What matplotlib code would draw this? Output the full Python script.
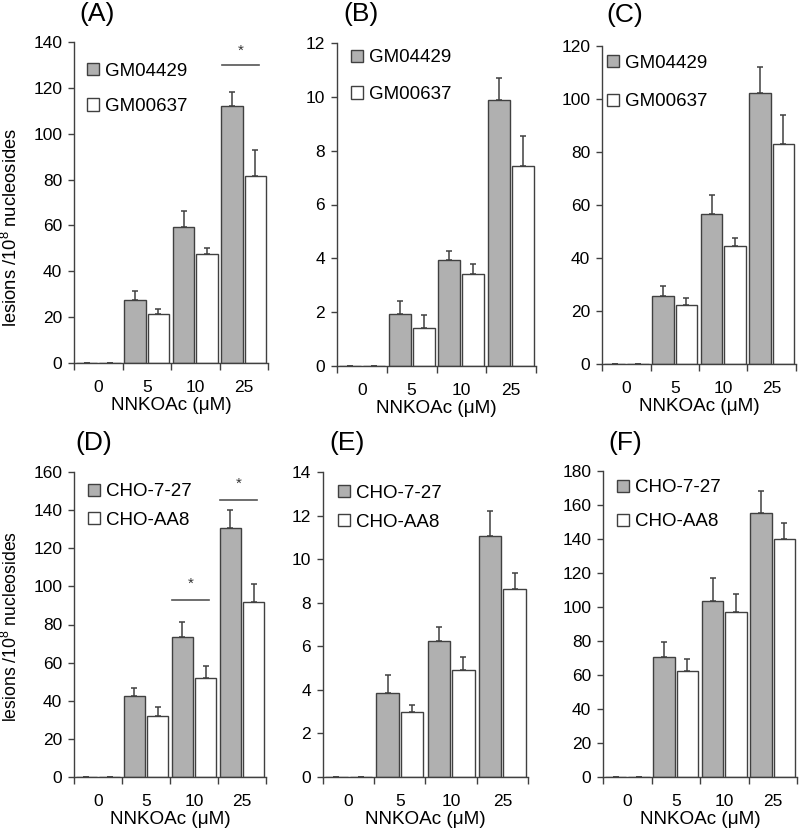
import matplotlib
matplotlib.use('Agg')
import matplotlib.pyplot as plt
import numpy as np
from matplotlib.patches import Patch

plt.rcParams['font.family'] = ['Liberation Sans', 'DejaVu Sans']
plt.rcParams['mathtext.fontset'] = 'custom'
plt.rcParams['mathtext.rm'] = 'Liberation Sans'
plt.rcParams['mathtext.it'] = 'Liberation Sans:italic'

# ---------------- data ----------------
doses = ['0', '5', '10', '25']
xlabel = 'NNKOAc (\u03bcM)'
ylabel = r'lesions /10$^{8}$ nucleosides'

human_lines = ['GM04429', 'GM00637']
cho_lines = ['CHO-7-27', 'CHO-AA8']

a_gray = [0, 27.3, 59.5, 111.9]
a_gray_err = [0, 4.2, 6.6, 6.4]
a_white = [0, 21.4, 47.4, 81.7]
a_white_err = [0, 2.2, 2.6, 11.0]

b_gray = [0, 1.92, 3.95, 9.87]
b_gray_err = [0, 0.50, 0.33, 0.82]
b_white = [0, 1.43, 3.42, 7.43]
b_white_err = [0, 0.48, 0.37, 1.10]

c_gray = [0, 25.8, 56.5, 102.2]
c_gray_err = [0, 3.6, 7.4, 9.7]
c_white = [0, 22.1, 44.6, 82.9]
c_white_err = [0, 2.9, 3.1, 11.1]

d_gray = [0, 42.7, 73.4, 130.8]
d_gray_err = [0, 4.0, 7.9, 9.1]
d_white = [0, 32.2, 51.8, 91.8]
d_white_err = [0, 4.5, 6.3, 9.3]

e_gray = [0, 3.86, 6.26, 11.04]
e_gray_err = [0, 0.84, 0.63, 1.17]
e_white = [0, 2.99, 4.92, 8.62]
e_white_err = [0, 0.31, 0.57, 0.75]

f_gray = [0, 70.7, 103.8, 155.1]
f_gray_err = [0, 8.6, 13.1, 13.1]
f_white = [0, 62.1, 97.3, 139.8]
f_white_err = [0, 7.6, 10.2, 9.4]

# significance: (dose index, line y, star y)
a_sig = [(3, 130, 136)]
d_sig = [(2, 92.8, 101.5), (3, 145.5, 154)]

a_yticks = [0, 20, 40, 60, 80, 100, 120, 140]
b_yticks = [0, 2, 4, 6, 8, 10, 12]
c_yticks = [0, 20, 40, 60, 80, 100, 120]
d_yticks = [0, 20, 40, 60, 80, 100, 120, 140, 160]
e_yticks = [0, 2, 4, 6, 8, 10, 12, 14]
f_yticks = [0, 20, 40, 60, 80, 100, 120, 140, 160, 180]

# ---------------- layout ----------------
W, H = 800, 835
fig = plt.figure(figsize=(W / 100, H / 100), dpi=100)

GRAY = '#b0b0b0'
EDGE = '#404040'

panels = [
    dict(tag='(A)', rect=(74, 42, 268, 363), g=a_gray, ge=a_gray_err, w=a_white, we=a_white_err,
         yt=a_yticks, names=human_lines, sig=a_sig, ylab=(13.2, 21.5, 227),
         leg=(87, 73, 1.0), tagpos=(97, 14)),
    dict(tag='(B)', rect=(337, 43, 536, 366), g=b_gray, ge=b_gray_err, w=b_white, we=b_white_err,
         yt=b_yticks, names=human_lines, sig=[], ylab=None,
         leg=(351, 60, 1.05), tagpos=(361, 14)),
    dict(tag='(C)', rect=(602, 46, 796, 364), g=c_gray, ge=c_gray_err, w=c_white, we=c_white_err,
         yt=c_yticks, names=human_lines, sig=[], ylab=None,
         leg=(607, 65, 1.17), tagpos=(625, 15)),
    dict(tag='(D)', rect=(74, 472, 266, 777), g=d_gray, ge=d_gray_err, w=d_white, we=d_white_err,
         yt=d_yticks, names=cho_lines, sig=d_sig, ylab=(12.7, 21, 626),
         leg=(88, 494, 0.6), tagpos=(94, 443)),
    dict(tag='(E)', rect=(323, 472, 528, 777), g=e_gray, ge=e_gray_err, w=e_white, we=e_white_err,
         yt=e_yticks, names=cho_lines, sig=[], ylab=None,
         leg=(338, 495, 0.65), tagpos=(347, 443)),
    dict(tag='(F)', rect=(603, 471, 797, 777), g=f_gray, ge=f_gray_err, w=f_white, we=f_white_err,
         yt=f_yticks, names=cho_lines, sig=[], ylab=None,
         leg=(617, 490, 0.9), tagpos=(625, 443)),
]

TICK_FS = 12.5
LEG_FS = 13.5
XL_FS = 13.6
bw = 0.44
off = 0.24

for p in panels:
    l, t, r, b = p['rect']
    ax = fig.add_axes([l / W, 1 - b / H, (r - l) / W, (b - t) / H])
    x = np.arange(len(doses))
    g = np.array(p['g'], float)
    wv = np.array(p['w'], float)
    ax.bar(x - off, g, bw, color=GRAY, edgecolor=EDGE, linewidth=1.0, zorder=2)
    ax.bar(x + off, wv, bw, color='white', edgecolor=EDGE, linewidth=1.0, zorder=2)
    ax.errorbar(x - off, g, yerr=[np.zeros_like(g), p['ge']], fmt='none',
                ecolor=EDGE, elinewidth=1.1, capsize=2, capthick=1.1, zorder=1)
    ax.errorbar(x + off, wv, yerr=[np.zeros_like(wv), p['we']], fmt='none',
                ecolor=EDGE, elinewidth=1.1, capsize=2, capthick=1.1, zorder=1)

    for (i, ly, sy) in p['sig']:
        ax.plot([i - 0.45, i + 0.32], [ly, ly], color='#555555', lw=1.2, clip_on=False)
        ax.text(i - 0.07, sy, '*', ha='center', va='center', fontsize=11, color='#333333')

    ax.set_xlim(-0.5, len(doses) - 0.5)
    ax.set_ylim(0, p['yt'][-1])
    ax.set_yticks(p['yt'])
    ax.set_xticks(np.arange(len(doses) + 1) - 0.5)
    ax.set_xticklabels([])
    ax.set_xticks(x, minor=True)
    ax.set_xticklabels(doses, minor=True)
    ax.tick_params(axis='x', which='major', direction='out', length=5, width=1, color=EDGE)
    ax.tick_params(axis='x', which='minor', length=0, pad=12.5, labelsize=TICK_FS)
    ax.tick_params(axis='y', direction='out', length=4.5, width=1, color=EDGE, pad=4, labelsize=TICK_FS)
    for s in ['top', 'right']:
        ax.spines[s].set_visible(False)
    for s in ['left', 'bottom']:
        ax.spines[s].set_color(EDGE)
        ax.spines[s].set_linewidth(1.0)
    ax.set_xlabel(xlabel, fontsize=XL_FS, labelpad=1)
    if p['ylab']:
        fs, xr, yc = p['ylab']
        ax.set_ylabel(ylabel, fontsize=fs)
        ax.yaxis.set_label_coords((xr - l) / (r - l), (b - yc) / (b - t))

    handles = [Patch(facecolor=GRAY, edgecolor=EDGE, linewidth=1.0),
               Patch(facecolor='white', edgecolor=EDGE, linewidth=1.0)]
    lx, ly, lsp = p['leg']
    ax.legend(handles, p['names'], loc='upper left',
              bbox_to_anchor=(lx / W, 1 - (ly - 10.5) / H), bbox_transform=fig.transFigure,
              frameon=False, fontsize=LEG_FS, borderpad=0, borderaxespad=0,
              handlelength=0.65, handleheight=0.65, handletextpad=0.32,
              labelspacing=lsp)

    tx, ty = p['tagpos']
    fig.text(tx / W, 1 - ty / H, p['tag'], ha='center', va='center', fontsize=19)

fig.savefig('out.png', dpi=100)
